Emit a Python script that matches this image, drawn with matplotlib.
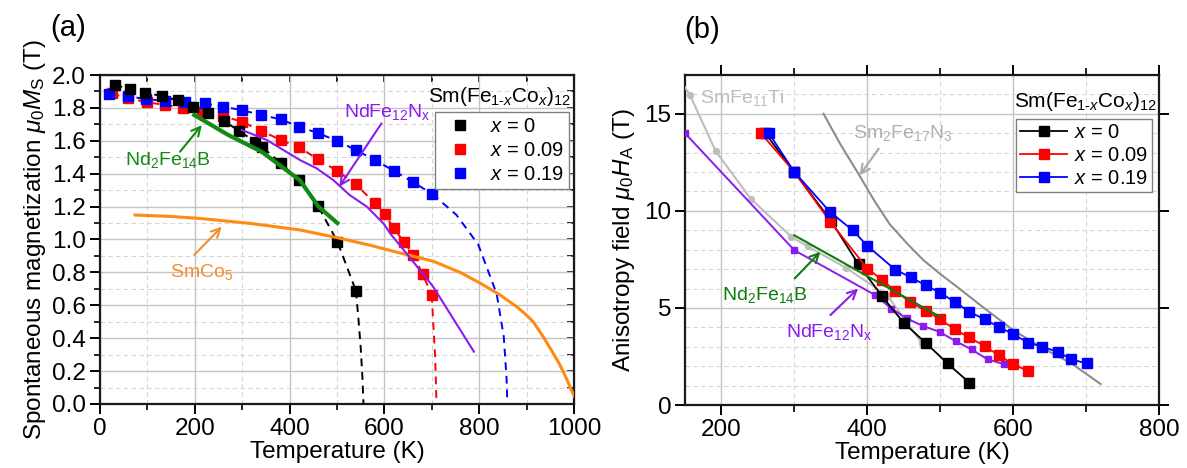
import matplotlib
matplotlib.use("Agg")
import matplotlib.pyplot as plt
from matplotlib.lines import Line2D
from matplotlib.ticker import MultipleLocator, FormatStrFormatter

plt.rcParams.update({
    "font.family": ["Liberation Sans", "DejaVu Sans"],
    "mathtext.fontset": "custom",
    "mathtext.rm": "Liberation Sans",
    "mathtext.it": "Liberation Sans:italic",
    "mathtext.bf": "Liberation Sans:bold",
    "font.size": 15,
})

# ---------------- (a) spontaneous magnetization ----------------
ms_T_x0 = [31, 64, 96, 131, 164, 197, 228, 262, 293, 328, 341, 381, 419, 460, 501, 540]
ms_M_x0 = [1.94, 1.914, 1.893, 1.872, 1.846, 1.808, 1.767, 1.722, 1.66, 1.595, 1.564,
           1.467, 1.362, 1.204, 0.987, 0.689]
ms_tail_T_x0 = [540, 545, 550, 554, 556]
ms_tail_M_x0 = [0.689, 0.53, 0.35, 0.15, 0.0]

ms_T_x009 = [25, 60, 100, 137, 176, 216, 259, 299, 340, 381, 420, 461, 501, 540,
             580, 601, 620, 641, 661, 681, 700]
ms_M_x009 = [1.888, 1.858, 1.834, 1.818, 1.80, 1.773, 1.752, 1.716, 1.662, 1.605,
             1.56, 1.487, 1.416, 1.336, 1.22, 1.153, 1.068, 0.987, 0.906, 0.788, 0.663]
ms_tail_T_x009 = [700, 704, 707, 709, 710]
ms_tail_M_x009 = [0.663, 0.45, 0.3, 0.12, 0.0]

ms_T_x019 = [20, 60, 98, 137, 179, 221, 260, 299, 340, 381, 420, 461, 501, 540,
             580, 620, 661, 701]
ms_M_x019 = [1.883, 1.872, 1.852, 1.844, 1.834, 1.827, 1.807, 1.787, 1.757, 1.731,
             1.686, 1.646, 1.599, 1.544, 1.483, 1.418, 1.348, 1.277]
ms_tail_T_x019 = [701, 752, 798, 837, 852, 858, 859.5]
ms_tail_M_x019 = [1.277, 1.15, 0.97, 0.67, 0.41, 0.15, 0.0]

ms_T_ndfeb = [199, 271, 341, 422, 461, 501]
ms_M_ndfeb = [1.757, 1.635, 1.534, 1.36, 1.2, 1.1]

ms_T_ndfe12n = [299, 317, 352, 387, 422, 457, 492, 527, 563, 598, 615, 654, 703, 789]
ms_M_ndfe12n = [1.666, 1.646, 1.605, 1.544, 1.483, 1.433, 1.362, 1.27, 1.2, 1.098,
                1.027, 0.89, 0.713, 0.318]

ms_T_smco5 = [74, 150, 211, 317, 422, 499, 570, 633, 703, 760, 802, 844, 880, 900,
              914, 935, 956, 970, 985, 1000]
ms_M_smco5 = [1.149, 1.14, 1.128, 1.098, 1.058, 1.012, 0.965, 0.918, 0.868, 0.80,
              0.735, 0.663, 0.59, 0.54, 0.50, 0.41, 0.31, 0.24, 0.15, 0.05]

# ---------------- (b) anisotropy field ----------------
ha_T_x0 = [260, 300, 350, 388, 420, 450, 481, 510, 540]
ha_H_x0 = [14.0, 12.0, 9.5, 7.24, 5.61, 4.23, 3.17, 2.14, 1.15]

ha_T_x009 = [254, 300, 349, 400, 420, 438, 459, 480, 500, 520, 540, 561, 580, 600, 620]
ha_H_x009 = [14.0, 12.0, 9.45, 7.03, 6.46, 5.87, 5.31, 4.85, 4.42, 3.89, 3.48, 3.03,
             2.57, 2.11, 1.75]

ha_T_x019 = [265, 300, 349, 380, 400, 438, 460, 480, 500, 520, 540, 561, 580, 600,
             620, 640, 661, 680, 701]
ha_H_x019 = [14.0, 12.0, 9.94, 9.0, 8.2, 6.98, 6.57, 6.17, 5.78, 5.31, 4.8, 4.41,
             4.03, 3.65, 3.22, 3.0, 2.74, 2.35, 2.14]

ha_T_ndfe12n = [150, 300, 411, 433, 454, 477, 499, 521, 543, 565, 587]
ha_H_ndfe12n = [14.0, 7.97, 5.66, 4.97, 4.46, 4.06, 3.77, 3.29, 2.86, 2.35, 2.11]

ha_T_smfe11ti = [140, 157, 192, 240, 296, 318, 371, 428, 475]
ha_H_smfe11ti = [16.95, 15.95, 13.08, 10.63, 8.66, 8.18, 7.06, 5.62, 3.17]

ha_T_sm2fe17n3 = [340, 362, 388, 410, 431, 455, 477, 500, 523, 561, 600, 641, 680, 720]
ha_H_sm2fe17n3 = [15.0, 13.5, 11.9, 10.5, 9.3, 8.3, 7.46, 6.75, 6.09, 4.97, 3.86,
                  2.92, 2.14, 1.08]

ha_T_ndfeb = [300, 500]
ha_H_ndfeb = [8.74, 4.54]

series_labels = ["$x$ = 0", "$x$ = 0.09", "$x$ = 0.19"]
series_colors = ["black", "#ff0000", "#0000ff"]
legend_title = "Sm(Fe$_{1\u2011x}$Co$_{x}$)$_{12}$"

C_GREEN = "#138a13"
C_GREEN_B = "#0f7a0f"
C_PURPLE = "#8a1cf0"
C_ORANGE = "#ff8a14"
C_LGRAY = "#bdbdbd"
C_DGRAY = "#8c8c8c"

TICK_FS = 17.5
LABEL_FS = 17.5
NOTE_FS = 14
LEG_FS = 14.5

fig = plt.figure(figsize=(11.87, 4.68), dpi=100)
axA = fig.add_axes([0.0842, 0.1368, 0.3993, 0.7029])
axB = fig.add_axes([0.5771, 0.1346, 0.3993, 0.7051])


def style_grid(ax):
    ax.grid(which="major", color="#c4c4c4", lw=1.0, ls="-", zorder=0)
    ax.grid(which="minor", color="#d6d6d6", lw=0.8, ls=(0, (4, 3)), zorder=0)
    ax.set_axisbelow(True)
    for s in ax.spines.values():
        s.set_linewidth(1.6)
        s.set_color("#1a1a1a")


# ---- panel (a)
axA.set_xlim(0, 1000)
axA.set_ylim(0, 2.0)
axA.xaxis.set_major_locator(MultipleLocator(200))
axA.xaxis.set_minor_locator(MultipleLocator(100))
axA.yaxis.set_major_locator(MultipleLocator(0.2))
axA.yaxis.set_minor_locator(MultipleLocator(0.1))
axA.yaxis.set_major_formatter(FormatStrFormatter("%.1f"))
style_grid(axA)
axA.tick_params(which="major", direction="out", length=7, width=1.4,
                labelsize=TICK_FS, pad=3)
axA.tick_params(which="minor", direction="out", length=4, width=1.2)
topA = axA.secondary_xaxis("top")
topA.xaxis.set_major_locator(MultipleLocator(100))
topA.tick_params(direction="in", length=5, width=1.2, labeltop=False)
rightA = axA.secondary_yaxis("right")
rightA.yaxis.set_major_locator(MultipleLocator(0.1))
rightA.tick_params(direction="in", length=5, width=1.2, labelright=False)

ms_sets = [
    (ms_T_x009, ms_M_x009, ms_tail_T_x009, ms_tail_M_x009, 1),
    (ms_T_x019, ms_M_x019, ms_tail_T_x019, ms_tail_M_x019, 2),
    (ms_T_x0, ms_M_x0, ms_tail_T_x0, ms_tail_M_x0, 0),
]
handlesA = [None, None, None]
for T, M, tT, tM, i in ms_sets:
    c = series_colors[i]
    axA.plot(T, M, color=c, lw=1.4, ls=(0, (4, 3)), zorder=3)
    axA.plot(tT, tM, color=c, lw=1.4, ls=(0, (4, 3)), zorder=3)
    h, = axA.plot(T, M, "s", color=c, ms=7.2, mec=c, ls="none", zorder=4,
                  label=series_labels[i])
    handlesA[i] = h

axA.plot(ms_T_smco5, ms_M_smco5, color=C_ORANGE, lw=2.2, zorder=5)
axA.plot(ms_T_ndfe12n, ms_M_ndfe12n, color=C_PURPLE, lw=1.5, zorder=5)
axA.plot(ms_T_ndfeb, ms_M_ndfeb, color=C_GREEN, lw=3.0, zorder=5)

arrow_kw = dict(arrowstyle="->", lw=1.5, shrinkA=0, shrinkB=0, mutation_scale=16)
axA.text(143, 1.483, "Nd$_2$Fe$_{14}$B", color=C_GREEN, fontsize=NOTE_FS,
         ha="center", va="center", zorder=6)
axA.annotate("", xy=(215, 1.696), xytext=(169, 1.534),
             arrowprops=dict(color=C_GREEN, **arrow_kw), zorder=6)
axA.text(607, 1.775, "NdFe$_{12}$N$_{\\rm x}$", color=C_PURPLE, fontsize=NOTE_FS,
         ha="center", va="center", zorder=6)
axA.annotate("", xy=(505, 1.321), xytext=(594, 1.706),
             arrowprops=dict(color=C_PURPLE, **arrow_kw), zorder=6)
axA.text(214, 0.80, "SmCo$_5$", color="#f0902c", fontsize=NOTE_FS, ha="center",
         va="center", zorder=6)
axA.annotate("", xy=(257, 1.078), xytext=(199, 0.906),
             arrowprops=dict(color="#f0902c", **arrow_kw), zorder=6)

legA = axA.legend(handles=handlesA, loc="upper right", bbox_to_anchor=(0.990, 0.888),
                  frameon=True, fancybox=False, edgecolor="#808080", framealpha=1,
                  fontsize=LEG_FS, handlelength=2.0, handletextpad=0.5,
                  borderpad=0.25, labelspacing=0.25, borderaxespad=0)
legA.get_frame().set_linewidth(1.0)
legA.set_zorder(8)
axA.text(0.993, 0.935, legend_title, transform=axA.transAxes, ha="right",
         va="center", fontsize=15, zorder=8)

axA.set_xlabel("Temperature (K)", fontsize=LABEL_FS, labelpad=1)
axA.set_ylabel("Spontaneous magnetization $\\mu_0M_{\\rm S}$ (T)", fontsize=LABEL_FS,
               labelpad=3)
fig.text(68 / 1187, 1 - 28 / 468, "(a)", fontsize=21, ha="center", va="center")

# ---- panel (b)
axB.set_xlim(150, 800)
axB.set_ylim(0, 17)
axB.xaxis.set_major_locator(MultipleLocator(200))
axB.xaxis.set_minor_locator(MultipleLocator(100))
axB.yaxis.set_major_locator(MultipleLocator(5))
axB.yaxis.set_minor_locator(MultipleLocator(1))
style_grid(axB)
axB.tick_params(which="major", direction="out", length=7, width=1.4,
                labelsize=TICK_FS, top=True, right=True, pad=3)
axB.tick_params(axis="x", which="minor", direction="out", length=5, width=1.2,
                top=True)
axB.tick_params(axis="y", which="minor", length=0)

axB.plot(ha_T_smfe11ti, ha_H_smfe11ti, "-o", color=C_LGRAY, lw=1.5, ms=4.2,
         zorder=3)
axB.plot(ha_T_sm2fe17n3, ha_H_sm2fe17n3, color=C_DGRAY, lw=1.5, zorder=3)
axB.plot(ha_T_ndfe12n, ha_H_ndfe12n, "-s", color=C_PURPLE, lw=1.4, ms=4.5,
         zorder=4)
axB.plot(ha_T_ndfeb, ha_H_ndfeb, color=C_GREEN_B, lw=1.5, zorder=5)

ha_sets = [(ha_T_x0, ha_H_x0, 0), (ha_T_x009, ha_H_x009, 1), (ha_T_x019, ha_H_x019, 2)]
handlesB = []
for T, H, i in ha_sets:
    c = series_colors[i]
    axB.plot(T, H, "-s", color=c, lw=1.3, ms=6.5, mec=c, zorder=4 + i * 0.1)
    handlesB.append(Line2D([], [], color=c, lw=1.3, marker="s", ms=6.5,
                           label=series_labels[i]))

axB.text(171, 15.84, "SmFe$_{11}$Ti", color=C_LGRAY, fontsize=NOTE_FS, ha="left",
         va="center", zorder=6)
axB.text(381, 14.0, "Sm$_2$Fe$_{17}$N$_3$", color="#b0b0b0", fontsize=NOTE_FS,
         ha="left", va="center", zorder=6)
axB.annotate("", xy=(389.5, 11.83), xytext=(415.5, 13.2),
             arrowprops=dict(color="#a8a8a8", **arrow_kw), zorder=6)
axB.text(259, 5.66, "Nd$_2$Fe$_{14}$B", color=C_GREEN_B, fontsize=NOTE_FS,
         ha="center", va="center", zorder=6)
axB.annotate("", xy=(335.6, 7.89), xytext=(300.4, 6.52),
             arrowprops=dict(color=C_GREEN_B, **arrow_kw), zorder=6)
axB.text(348, 3.76, "NdFe$_{12}$N$_{\\rm x}$", color=C_PURPLE, fontsize=NOTE_FS,
         ha="center", va="center", zorder=6)
axB.annotate("", xy=(387.3, 6.0), xytext=(349.3, 4.63),
             arrowprops=dict(color=C_PURPLE, **arrow_kw), zorder=6)

legB = axB.legend(handles=handlesB, loc="upper right", bbox_to_anchor=(0.985, 0.867),
                  frameon=True, fancybox=False, edgecolor="#808080", framealpha=1,
                  fontsize=LEG_FS, handlelength=2.3, handletextpad=0.35,
                  borderpad=0.2, labelspacing=0.2, borderaxespad=0)
legB.get_frame().set_linewidth(1.0)
legB.set_zorder(8)
axB.text(0.996, 0.921, legend_title, transform=axB.transAxes, ha="right",
         va="center", fontsize=15, zorder=8)

axB.set_xlabel("Temperature (K)", fontsize=LABEL_FS, labelpad=1)
axB.set_ylabel("Anisotropy field $\\mu_0H_{\\rm A}$ (T)", fontsize=LABEL_FS,
               labelpad=5)
fig.text(702 / 1187, 1 - 30 / 468, "(b)", fontsize=21, ha="center", va="center")

fig.savefig("out.png", dpi=100)
